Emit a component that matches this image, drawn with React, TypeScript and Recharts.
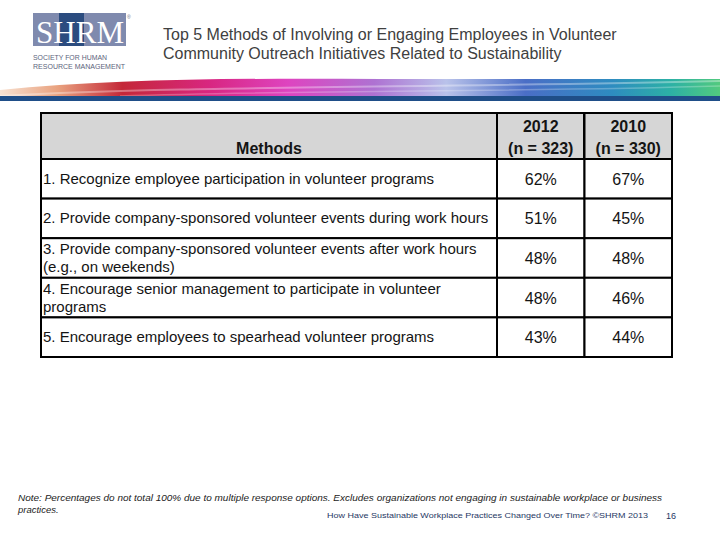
import React from 'react';
import { ScatterChart, Scatter, XAxis, YAxis, Customized } from 'recharts';

const methods = [
  '1. Recognize employee participation in volunteer programs',
  '2. Provide company-sponsored volunteer events during work hours',
  '3. Provide company-sponsored volunteer events after work hours (e.g., on weekends)',
  '4. Encourage senior management to participate in volunteer programs',
  '5. Encourage employees to spearhead volunteer programs',
];
const years = ['2012', '2010'];
const sampleSizes = ['(n = 323)', '(n = 330)'];
const values2012 = [62, 51, 48, 48, 43];
const values2010 = [67, 45, 48, 46, 44];
const methodsHeader = 'Methods';

const titleLines = [
  'Top 5 Methods of Involving or Engaging Employees in Volunteer',
  'Community Outreach Initiatives Related to Sustainability',
];
const noteLines = [
  'Note: Percentages do not total 100% due to multiple response options. Excludes organizations not engaging in sustainable workplace or business',
  'practices.',
];
const footer = 'How Have Sustainable Workplace Practices Changed Over Time? ©SHRM 2013';
const pageNumber = '16';

const cells = years.flatMap((year, c) =>
  methods.map((method, i) => ({ year, method, value: [values2012, values2010][c][i] }))
);

// table geometry
const W = 720;
const H = 540;
const LEFT = 41;
const SPLIT = 497;
const RIGHT = 672;
const TOP = 113;
const HEADER_H = 46;
const BOTTOM = 357;
const COL_W = (RIGHT - SPLIT) / years.length;
const ROW_H = (BOTTOM - TOP - HEADER_H) / methods.length;

const FONT = '"Liberation Sans", Arial, sans-serif';
const INK = '#141414';
const HEADER_FILL = '#d6d6d6';
const LABEL_SIZE = 15;
const LINE_H = 18;

// word wrap measured with the real font
const measureCtx = typeof document !== 'undefined' ? document.createElement('canvas').getContext('2d') : null;
const wrapLabel = (label: string, maxWidth: number) => {
  if (!measureCtx) return [label];
  measureCtx.font = `${LABEL_SIZE}px "Liberation Sans", Arial, sans-serif`;
  const lines: string[] = [];
  let line = '';
  label.split(' ').forEach((word) => {
    const next = line ? `${line} ${word}` : word;
    if (line && measureCtx.measureText(next).width > maxWidth) {
      lines.push(line);
      line = word;
    } else {
      line = next;
    }
  });
  lines.push(line);
  return lines;
};

const YearTick = ({ x, payload }: any) => {
  const i = years.indexOf(payload.value);
  return (
    <g>
      <rect x={x - COL_W / 2} y={TOP} width={COL_W} height={HEADER_H} fill={HEADER_FILL} stroke="#000" strokeWidth={2} />
      <text x={x} y={TOP + 19} textAnchor="middle" fontFamily={FONT} fontSize={16} fontWeight="bold" fill={INK}>
        {payload.value}
      </text>
      <text x={x} y={TOP + 41} textAnchor="middle" fontFamily={FONT} fontSize={16} fontWeight="bold" fill={INK}>
        {sampleSizes[i]}
      </text>
    </g>
  );
};

const MethodTick = ({ y, payload }: any) => {
  const lines = wrapLabel(payload.value, SPLIT - LEFT - 5);
  const firstY = y - ((lines.length - 1) * LINE_H) / 2 + 5;
  return (
    <g>
      <rect x={LEFT} y={y - ROW_H / 2} width={SPLIT - LEFT} height={ROW_H} fill="#fff" stroke="#000" strokeWidth={2} />
      <text fontFamily={FONT} fontSize={LABEL_SIZE} fill={INK}>
        {lines.map((line, i) => (
          <tspan key={i} x={LEFT + 2} y={firstY + i * LINE_H}>
            {line}
          </tspan>
        ))}
      </text>
    </g>
  );
};

const ValueCell = ({ cx, cy, payload }: any) => (
  <g>
    <rect x={cx - COL_W / 2} y={cy - ROW_H / 2} width={COL_W} height={ROW_H} fill="#fff" stroke="#000" strokeWidth={2} />
    <text x={cx} y={cy + 6} textAnchor="middle" fontFamily={FONT} fontSize={16} fill={INK}>
      {`${payload.value}%`}
    </text>
  </g>
);

const MethodsHeader = () => (
  <g>
    <rect x={LEFT} y={TOP} width={SPLIT - LEFT} height={HEADER_H} fill={HEADER_FILL} stroke="#000" strokeWidth={2} />
    <text x={(LEFT + SPLIT) / 2} y={TOP + 41} textAnchor="middle" fontFamily={FONT} fontSize={16} fontWeight="bold" fill={INK}>
      {methodsHeader}
    </text>
  </g>
);

const SlideDecor = () => (
  <svg width={W} height={H} style={{ position: 'absolute', left: 0, top: 0 }}>
    <defs>
      <linearGradient id="stripe" x1="0" y1="0" x2="1" y2="0">
        <stop offset="0" stopColor="#f8e2d2" />
        <stop offset="0.08" stopColor="#e9a27f" />
        <stop offset="0.17" stopColor="#c42838" />
        <stop offset="0.29" stopColor="#d82680" />
        <stop offset="0.40" stopColor="#de44c0" />
        <stop offset="0.52" stopColor="#ae72d2" />
        <stop offset="0.62" stopColor="#b9c2ea" />
        <stop offset="0.73" stopColor="#4a6ec6" />
        <stop offset="0.85" stopColor="#2e8cc0" />
        <stop offset="0.93" stopColor="#2cb0a6" />
        <stop offset="1" stopColor="#52ca7e" />
      </linearGradient>
    </defs>
    <rect width={W} height={H} fill="#fff" />

    {/* logo */}
    <rect x={33} y={13} width={93} height={33} fill="#7f8aae" />
    <rect x={59} y={13} width={25} height={33} fill="#2b4c7f" />
    <text x={36} y={43} fontFamily='"Liberation Serif", serif' fontSize={31} fill="#fff" textLength={88} lengthAdjust="spacingAndGlyphs">
      SHRM
    </text>
    <text x={127} y={19} fontFamily={FONT} fontSize={5} fill="#6a7088">®</text>
    <text x={33} y={60} fontFamily={FONT} fontSize={8} fill="#5c647c" textLength={74} lengthAdjust="spacingAndGlyphs">
      SOCIETY FOR HUMAN
    </text>
    <text x={33} y={69} fontFamily={FONT} fontSize={8} fill="#5c647c" textLength={92} lengthAdjust="spacingAndGlyphs">
      RESOURCE MANAGEMENT
    </text>

    {/* title */}
    {titleLines.map((line, i) => (
      <text key={line} x={163} y={40 + i * 19} fontFamily={FONT} fontSize={16} fill="#404040">
        {line}
      </text>
    ))}

    {/* colour stripe */}
    <path d="M0,90 C110,79 240,78 380,79 L720,79 L720,96 L0,96 Z" fill="url(#stripe)" />
    <path d="M0,96 C180,86 420,88 720,81" stroke="#fff" strokeOpacity={0.35} strokeWidth={2} fill="none" />
    <path d="M120,96 C320,90 520,92 720,86" stroke="#fff" strokeOpacity={0.25} strokeWidth={1.5} fill="none" />
    <rect x={0} y={96} width={W} height={5} fill="#1f4e88" />

    {/* footnotes */}
    {noteLines.map((line, i) => (
      <text
        key={line}
        x={18}
        y={501 + i * 12}
        fontFamily={FONT}
        fontSize={9.5}
        fontStyle="italic"
        fill="#222"
        textLength={i === 0 ? 644 : undefined}
        lengthAdjust="spacingAndGlyphs"
      >
        {line}
      </text>
    ))}
    <text x={327} y={518} fontFamily={FONT} fontSize={7.5} fill="#1f3864" textLength={321} lengthAdjust="spacingAndGlyphs">
      {footer}
    </text>
    <text x={666} y={519} fontFamily={FONT} fontSize={9} fill="#1f3864">
      {pageNumber}
    </text>
  </svg>
);

export default function App() {
  return (
    <div style={{ position: 'absolute', left: 0, top: 0, width: W, height: H, background: '#fff' }}>
      <SlideDecor />
      <div style={{ position: 'absolute', left: 0, top: 0 }}>
        <ScatterChart
          width={W}
          height={H}
          margin={{ top: TOP, left: LEFT, right: W - RIGHT, bottom: H - BOTTOM }}
        >
          <XAxis
            xAxisId="col"
            dataKey="year"
            type="category"
            scale="band"
            orientation="top"
            height={HEADER_H}
            allowDuplicatedCategory={false}
            axisLine={false}
            tickLine={false}
            tick={<YearTick />}
          />
          <YAxis
            yAxisId="row"
            dataKey="method"
            type="category"
            scale="band"
            width={SPLIT - LEFT}
            reversed
            allowDuplicatedCategory={false}
            axisLine={false}
            tickLine={false}
            tick={<MethodTick />}
          />
          <Customized component={<MethodsHeader />} />
          <Scatter
            data={cells}
            xAxisId="col"
            yAxisId="row"
            shape={<ValueCell />}
            isAnimationActive={false}
          />
        </ScatterChart>
      </div>
    </div>
  );
}
